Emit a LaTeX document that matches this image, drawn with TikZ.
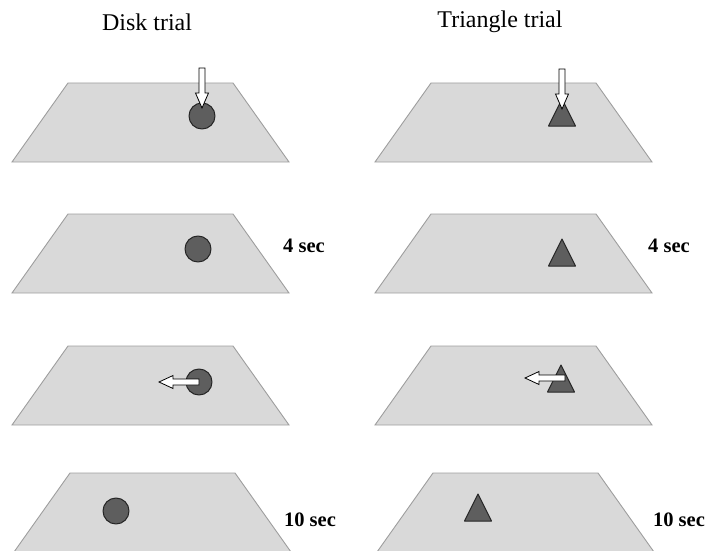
\documentclass[tikz,border=0pt]{standalone}
\usepackage{fontspec}
\setmainfont{Liberation Serif}
\usepackage{tikz}
\definecolor{platefill}{HTML}{D9D9D9}
\definecolor{plateedge}{HTML}{9E9E9E}
\definecolor{markfill}{HTML}{5E5E5E}
\definecolor{markedge}{HTML}{262626}
\tikzset{
  platestyle/.style={draw=plateedge, fill=platefill, line width=0.9pt, line join=miter},
  markstyle/.style={draw=markedge, fill=markfill, line width=1pt, line join=round},
  cuestyle/.style={draw=black, fill=white, line width=0.8pt, line join=miter},
  titlestyle/.style={font=\fontsize{24}{28}\selectfont, inner sep=0pt},
  timestyle/.style={font=\fontsize{20.5}{24}\selectfont\bfseries, inner sep=0pt}
}
\newcommand{\plate}[2]{ \draw[platestyle] ( #1 , #2 ) -- ++(165,0) -- ++(56,79) -- ++(-277,0) -- cycle;}
\newcommand{\disk}[2]{ \draw[markstyle] ( #1 , #2 ) circle (13pt);}
\newcommand{\tri}[2]{ \draw[markstyle] ( #1 , #2 ) -- ++(13.5,27) -- ++(-27,0) -- cycle;}
\newcommand{\dropcue}[2]{ \draw[cuestyle] ( #1 , #2 ) -- ++(6.5,-15) -- ++(-3.5,0) -- ++(0,-25) -- ++(-6,0) -- ++(0,25) -- ++(-3.5,0) -- cycle;}
\newcommand{\pushcue}[3]{ \draw[cuestyle] ( #1 , #2 ) -- ++(14,-6.5) -- ++(0,3.5) -- ++(#3,0) -- ++(0,6) -- ++(-#3,0) -- ++(0,3.5) -- cycle;}

\begin{document}
\begin{tikzpicture}[x=1pt,y=-1pt]
\useasboundingbox (0,0) rectangle (707,551);
% column titles
\node[titlestyle] (disktitle) at (147,22) {Disk trial};
\node[titlestyle] (trititle) at (500,22) {Triangle trial};
% row 1: cue
\plate{68}{83}
\plate{431}{83}
\disk{202}{116}
\tri{562}{99}
\dropcue{202}{108}
\dropcue{562}{109}
% row 2: 4 sec
\plate{68}{214}
\plate{431}{214}
\disk{198}{249}
\tri{562}{239}
\node[timestyle] (diskfour) at (304,246) {4 sec};
\node[timestyle] (trifour) at (669,246) {4 sec};
% row 3: push
\plate{68}{346}
\plate{431}{346}
\disk{199}{382}
\tri{561}{365}
\pushcue{159}{382}{26}
\pushcue{525}{378}{26}
% row 4: 10 sec
\plate{70}{473}
\plate{433}{473}
\disk{116}{511}
\tri{478}{494}
\node[timestyle] (diskten) at (310,520) {10 sec};
\node[timestyle] (triten) at (679,520) {10 sec};
\end{tikzpicture}
\end{document}
